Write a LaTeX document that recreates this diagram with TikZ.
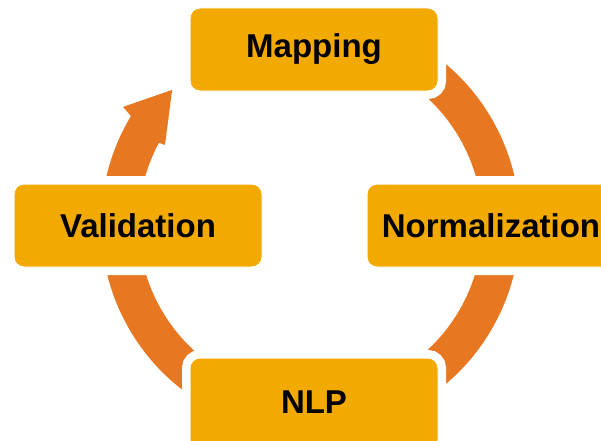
\documentclass[tikz,border=0pt]{standalone}
\usepackage{fontspec}
\setmainfont{Liberation Sans}
\definecolor{boxc}{RGB}{242,169,0}
\definecolor{arcc}{RGB}{232,119,34}
\tikzset{
  stagebox/.style={rectangle, rounded corners=10pt, minimum width=248pt, minimum height=83pt,
    inner sep=0pt, fill=boxc, draw=white, line width=1pt,
    preaction={draw=white, line width=16pt},
    font=\fontsize{33}{39}\selectfont\bfseries, text=black},
  ringfill/.style={fill=arcc}
}
\begin{document}
\begin{tikzpicture}[x=1pt,y=1pt]
\useasboundingbox (0,0) rectangle (601,440);
% cycle ring with arrowhead
\begin{scope}[shift={(310.5,216)}]
\fill[ringfill] (149:209.5pt) arc[start angle=149, end angle=450, radius=209.5pt]
  -- (450:172pt) arc[start angle=450, end angle=151.8, radius=172pt]
  -- (151.5:165.6pt) -- (135.9:192.7pt) -- (148:221pt) -- cycle;
\end{scope}
\node[stagebox] (map) at (314,390.5) {Mapping};
\node[stagebox] (val) at (138,214.5) {Validation};
\node[stagebox] (norm) at (491,214.5) {Normalization};
\node[stagebox, minimum height=92pt] (nlp) at (314,36) {\raisebox{3pt}{NLP}};
\end{tikzpicture}
\end{document}
